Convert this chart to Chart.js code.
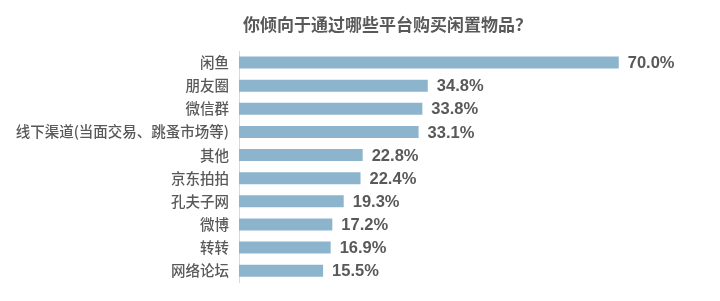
<!DOCTYPE html>
<html>
<head>
<meta charset="utf-8">
<script src="https://cdn.jsdelivr.net/npm/chart.js@4"></script>
<style>
  html, body { margin: 0; padding: 0; background: #fff; }
  #wrap { width: 720px; height: 301px; position: relative; }
</style>
</head>
<body>
<div id="wrap"><canvas id="platform-chart"></canvas></div>
<script>
const chartTitle = '你倾向于通过哪些平台购买闲置物品？';
const categories = ['闲鱼', '朋友圈', '微信群', '线下渠道(当面交易、跳蚤市场等)', '其他', '京东拍拍', '孔夫子网', '微博', '转转', '网络论坛'];
const percentValues = [70.0, 34.8, 33.8, 33.1, 22.8, 22.4, 19.3, 17.2, 16.9, 15.5];

const textColor = '#595959';
const barColor = '#8cb4cd';

// title drawn by hand so it can sit a bit right of centre like the original
const titlePlugin = {
  id: 'manualTitle',
  afterDraw(chart) {
    const ctx = chart.ctx;
    ctx.save();
    ctx.font = 'bold 17px "Noto Sans CJK SC", sans-serif';
    ctx.fillStyle = textColor;
    ctx.textAlign = 'left';
    ctx.textBaseline = 'middle';
    ctx.fillText(chartTitle, 243, 25);
    ctx.restore();
  }
};

// value labels right of each bar
const valueLabels = {
  id: 'valueLabels',
  afterDatasetsDraw(chart) {
    const ctx = chart.ctx;
    const meta = chart.getDatasetMeta(0);
    ctx.save();
    ctx.font = 'bold 16.5px "Liberation Sans", Arial, sans-serif';
    ctx.fillStyle = textColor;
    ctx.textAlign = 'left';
    ctx.textBaseline = 'middle';
    meta.data.forEach((bar, i) => {
      ctx.fillText(percentValues[i].toFixed(1) + '%', bar.x + 9, bar.y + 1);
    });
    ctx.restore();
  }
};

new Chart(document.getElementById('platform-chart'), {
  type: 'bar',
  data: {
    labels: categories,
    datasets: [{
      data: percentValues,
      backgroundColor: barColor,
      borderWidth: 0,
      categoryPercentage: 0.52,
      barPercentage: 1
    }]
  },
  options: {
    indexAxis: 'y',
    responsive: true,
    maintainAspectRatio: false,
    animation: false,
    layout: { padding: { top: 51, bottom: 9, left: 0, right: 47 } },
    plugins: {
      legend: { display: false },
      tooltip: { enabled: false },
      title: { display: false }
    },
    scales: {
      x: { display: false, min: 0, max: 80 },
      y: {
        grid: { display: false, drawTicks: false },
        border: { display: true, color: '#d9d9d9', width: 1 },
        ticks: {
          color: textColor,
          padding: 10,
          font: { family: '"Noto Sans CJK SC", sans-serif', size: 14.5, weight: '500' }
        },
        afterFit(scale) { scale.width = 239; }
      }
    }
  },
  plugins: [titlePlugin, valueLabels]
});
</script>
</body>
</html>
